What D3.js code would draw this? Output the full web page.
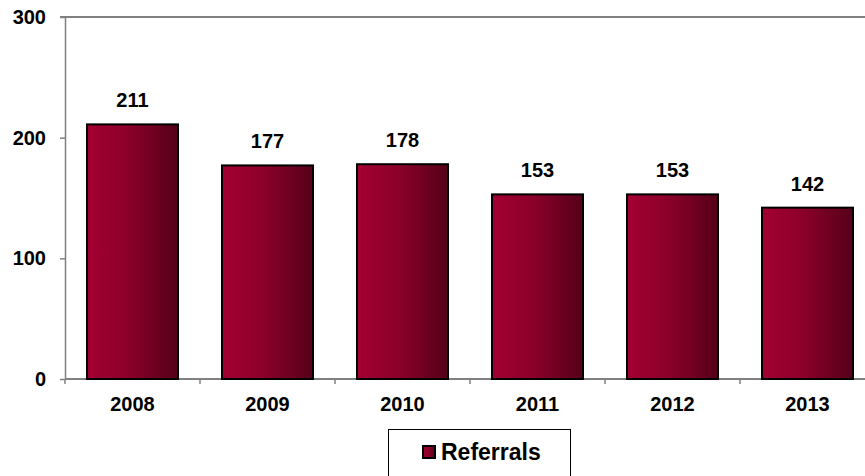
<!DOCTYPE html>
<html>
<head>
<meta charset="utf-8">
<script src="https://cdn.jsdelivr.net/npm/d3@7"></script>
<style>
  html, body { margin: 0; padding: 0; background: #fff; }
  svg { display: block; font-family: Arial, "Liberation Sans", sans-serif; }
</style>
</head>
<body>
<svg id="chart" width="865" height="476"></svg>
<script>
// Yearly referral counts
const years = ["2008", "2009", "2010", "2011", "2012", "2013"];
const referrals = [211, 177, 178, 153, 153, 142];
const yTicks = [0, 100, 200, 300];
const seriesName = "Referrals";

const svg = d3.select("#chart");
const plotLeft = 65, plotTop = 17, plotBottom = 379, plotRight = 875;

const x = d3.scaleBand().domain(years).range([plotLeft, plotRight])
  .paddingInner(0.326).paddingOuter(0.163);
const y = d3.scaleLinear().domain([0, 300]).range([plotBottom, plotTop]);

// Bar fill: crimson fading to a dark maroon from left to right
const defs = svg.append("defs");
const grad = defs.append("linearGradient").attr("id", "barFill")
  .attr("x1", "0%").attr("x2", "100%").attr("y1", "0%").attr("y2", "0%");
grad.append("stop").attr("offset", "0%").attr("stop-color", "#a30032");
grad.append("stop").attr("offset", "45%").attr("stop-color", "#8c002a");
grad.append("stop").attr("offset", "100%").attr("stop-color", "#55001a");

// Top frame line
svg.append("line")
  .attr("x1", 60).attr("x2", 865).attr("y1", plotTop).attr("y2", plotTop)
  .attr("stroke", "#808080").attr("stroke-width", 2);

// Y axis
const yAxis = svg.append("g").attr("transform", `translate(${plotLeft},0)`)
  .call(d3.axisLeft(y).tickValues(yTicks).tickSize(5).tickSizeOuter(0).tickPadding(14));
yAxis.select(".domain").attr("stroke", "#808080").attr("stroke-width", 1.5);
yAxis.selectAll(".tick line").attr("stroke", "#808080").attr("stroke-width", 1.5);
yAxis.selectAll("text").attr("font-size", 20).attr("font-weight", "bold")
  .attr("fill", "#000").attr("font-family", "Arial, 'Liberation Sans', sans-serif");

// X axis with ticks on category boundaries
const xAxis = svg.append("g").attr("transform", `translate(0,${plotBottom})`);
xAxis.append("line").attr("x1", plotLeft).attr("x2", plotRight)
  .attr("stroke", "#808080").attr("stroke-width", 2);
const step = x.step();
xAxis.selectAll("line.bound").data(d3.range(years.length + 1)).join("line")
  .attr("class", "bound")
  .attr("x1", i => plotLeft + i * step).attr("x2", i => plotLeft + i * step)
  .attr("y1", 0).attr("y2", 5)
  .attr("stroke", "#808080").attr("stroke-width", 1.5);
xAxis.selectAll("text").data(years).join("text")
  .attr("x", d => x(d) + x.bandwidth() / 2).attr("y", 32)
  .attr("text-anchor", "middle").attr("font-size", 20).attr("font-weight", "bold")
  .text(d => d);

// Bars
const data = years.map((yr, i) => ({ year: yr, value: referrals[i] }));
svg.append("g").selectAll("rect").data(data).join("rect")
  .attr("x", d => x(d.year)).attr("width", x.bandwidth())
  .attr("y", d => y(d.value)).attr("height", d => y(0) - y(d.value))
  .attr("fill", "url(#barFill)").attr("stroke", "#000").attr("stroke-width", 2);

// Value labels
svg.append("g").selectAll("text").data(data).join("text")
  .attr("x", d => x(d.year) + x.bandwidth() / 2).attr("y", d => y(d.value) - 17)
  .attr("text-anchor", "middle").attr("font-size", 20).attr("font-weight", "bold")
  .text(d => d.value);

// Legend
const lg = svg.append("g");
lg.append("rect").attr("x", 388.5).attr("y", 429.5).attr("width", 182).attr("height", 60)
  .attr("fill", "#fff").attr("stroke", "#000").attr("stroke-width", 1);
lg.append("rect").attr("x", 423).attr("y", 446).attr("width", 12).attr("height", 12)
  .attr("fill", "url(#barFill)").attr("stroke", "#000").attr("stroke-width", 2);
lg.append("text").attr("x", 441).attr("y", 459.5)
  .attr("font-size", 23).attr("font-weight", "bold").text(seriesName);
</script>
</body>
</html>
